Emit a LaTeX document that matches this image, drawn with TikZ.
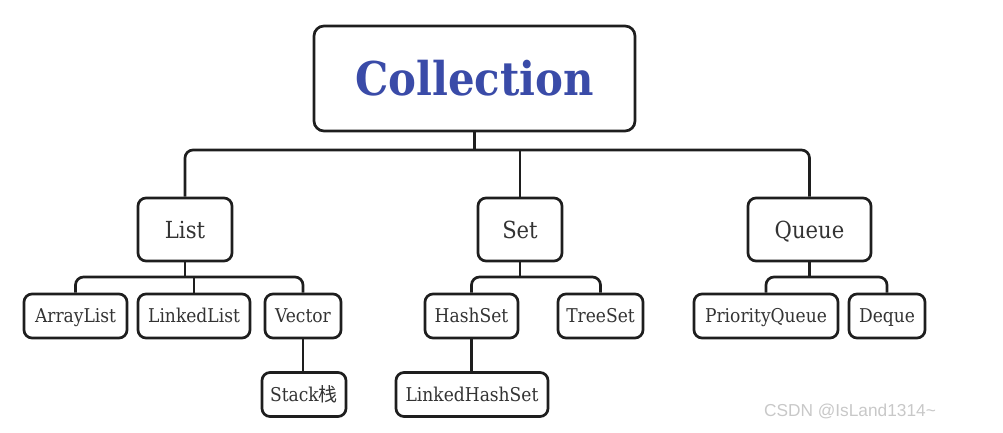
\documentclass[tikz,border=0pt]{standalone}
\usepackage{fontspec}
\IfFontExistsTF{DejaVu Serif Condensed}{\setmainfont{DejaVu Serif Condensed}}{\setmainfont{DejaVu Serif}}
\newfontfamily\cjkfont{Noto Sans CJK SC}
\newfontfamily\wmfont{Liberation Sans}
\definecolor{collblue}{HTML}{3A4BA8}
\definecolor{txtgray}{HTML}{333333}
\definecolor{edgegray}{HTML}{1E1E1E}
\definecolor{wmgray}{HTML}{C8C8C8}
\tikzset{
  box/.style={draw=edgegray, line width=2.7pt, rounded corners=8pt, fill=white,
    text=txtgray, inner sep=0pt, anchor=center, text depth=0pt},
  topbox/.style={box, rounded corners=10pt, minimum width=321pt, minimum height=105pt,
    text=collblue, font=\fontsize{46.5}{54}\selectfont\bfseries, text height=34pt},
  midbox/.style={box, minimum height=63pt, font=\fontsize{23.5}{28}\selectfont, text height=17.2pt},
  leafbox/.style={box, minimum height=44pt, font=\fontsize{19}{23}\selectfont, text height=13.9pt},
  conn/.style={draw=edgegray, line width=2.7pt},
  bus/.style={conn, rounded corners=8pt},
}
\begin{document}
\begin{tikzpicture}[x=1pt,y=-1pt]
\useasboundingbox (0,0) rectangle (1003,433);
% nodes
\node[topbox] (coll) at (474.5,78.5) {Collection};
\node[midbox, minimum width=94pt] (list) at (185,229.5) {List};
\node[midbox, minimum width=84pt] (set) at (520,229.5) {Set};
\node[midbox, minimum width=123pt] (queue) at (809.5,229.5) {Queue};
\node[leafbox, minimum width=103pt] (arr) at (75.5,316) {ArrayList};
\node[leafbox, minimum width=112pt] (lnk) at (194,316) {LinkedList};
\node[leafbox, minimum width=76pt] (vec) at (303,316) {Vector};
\node[leafbox, minimum width=84pt] (stk) at (304,394.5) {Stack{\cjkfont 栈}};
\node[leafbox, minimum width=93pt] (hs) at (471.5,316) {HashSet};
\node[leafbox, minimum width=85pt] (ts) at (600.5,316) {TreeSet};
\node[leafbox, minimum width=152pt] (lhs) at (472,394.5) {LinkedHashSet};
\node[leafbox, minimum width=144pt] (pq) at (766,316) {PriorityQueue};
\node[leafbox, minimum width=76pt] (dq) at (887,316) {Deque};
% bus coordinates
\coordinate (b1) at (474.5,150);
\coordinate (b2) at (185,277);
\coordinate (b3) at (520,277);
\coordinate (b4) at (809.5,277);
% connectors
\draw[conn] (coll.south) -- (b1);
\draw[bus] (list.north) |- (b1) -| (queue.north);
\draw[conn] (set.north) -- (set.north |- b1);
\draw[conn] (list.south) -- (b2);
\draw[bus] (arr.north) |- (b2) -| (vec.north);
\draw[conn] (lnk.north) -- (lnk.north |- b2);
\draw[conn] (vec.south) -- (vec.south |- stk.north);
\draw[conn] (set.south) -- (b3);
\draw[bus] (hs.north) |- (b3) -| (ts.north);
\draw[conn] (hs.south) -- (hs.south |- lhs.north);
\draw[conn] (queue.south) -- (b4);
\draw[bus] (pq.north) |- (b4) -| (dq.north);
% watermark
\node[text=wmgray, font=\wmfont\fontsize{17.3}{19}\selectfont, inner sep=0pt] (wm) at (850,411) {CSDN @IsLand1314\textasciitilde};
\end{tikzpicture}
\end{document}
